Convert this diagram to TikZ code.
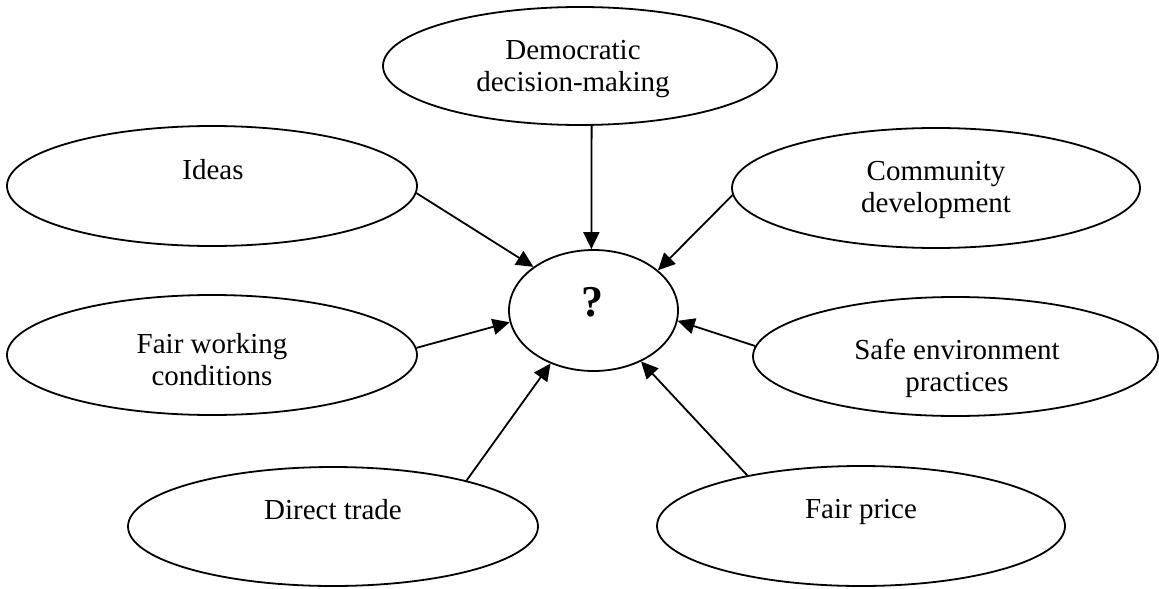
\documentclass[tikz,border=0pt]{standalone}
\usepackage{fontspec}
\setmainfont{Liberation Serif}
\usetikzlibrary{shapes.geometric,arrows.meta}
\begin{document}
\begin{tikzpicture}[x=0.5pt,y=-0.5pt,
  oval/.style={draw=black,line width=0.9pt,ellipse,inner sep=0pt},
  lbl/.style={anchor=base,inner sep=0pt,font=\fontsize{14.5}{16}\selectfont},
  qlbl/.style={anchor=base,inner sep=0pt,font=\fontsize{22}{26}\selectfont\bfseries},
  link/.style={draw=black,line width=0.9pt,-{Triangle[length=8.5pt,width=8pt]}}]
\useasboundingbox (0,0) rectangle (1159,588);
% ellipses
\node[oval,minimum width=197pt,minimum height=59pt] (dem) at (580,66) {};
\node[oval,minimum width=205pt,minimum height=60pt] (ideas) at (212,186) {};
\node[oval,minimum width=204pt,minimum height=60pt] (comm) at (936,188) {};
\node[oval,minimum width=84.5pt,minimum height=60.5pt] (q) at (593.5,310.5) {};
\node[oval,minimum width=205pt,minimum height=60pt] (fwc) at (212,355) {};
\node[oval,minimum width=202.5pt,minimum height=59.5pt] (safe) at (955.5,356.5) {};
\node[oval,minimum width=205pt,minimum height=59.5pt] (dt) at (333,526.5) {};
\node[oval,minimum width=204pt,minimum height=60pt] (fp) at (861,526) {};
% labels
\node[lbl] (demt) at (573,60) {\begin{tabular}[t]{@{}c@{}}Democratic\\decision-making\end{tabular}};
\node[lbl] (ideast) at (213,179) {Ideas};
\node[lbl] (commt) at (936,181) {\begin{tabular}[t]{@{}c@{}}Community\\development\end{tabular}};
\node[qlbl] (qt) at (592,316) {?};
\node[lbl] (fwct) at (212,353) {\begin{tabular}[t]{@{}c@{}}Fair working\\conditions\end{tabular}};
\node[lbl] (safet) at (957,359) {\begin{tabular}[t]{@{}c@{}}Safe environment\\practices\end{tabular}};
\node[lbl] (dtt) at (333,519) {Direct trade};
\node[lbl] (fpt) at (861,518) {Fair price};
% connectors
\draw[link] (ideas.-2) -- (q.144.7);
\draw[link] (dem.-79.4) -- (q.92.4);
\draw[link] (comm.182.8) -- (q.32.4);
\draw[link] (fwc.2.5) -- (q.188.6);
\draw[link] (safe.177.1) -- (q.-7.3);
\draw[link] (dt.19.2) -- (q.231.7);
\draw[link] (fp.156.6) -- (q.-47.4);
\end{tikzpicture}
\end{document}
